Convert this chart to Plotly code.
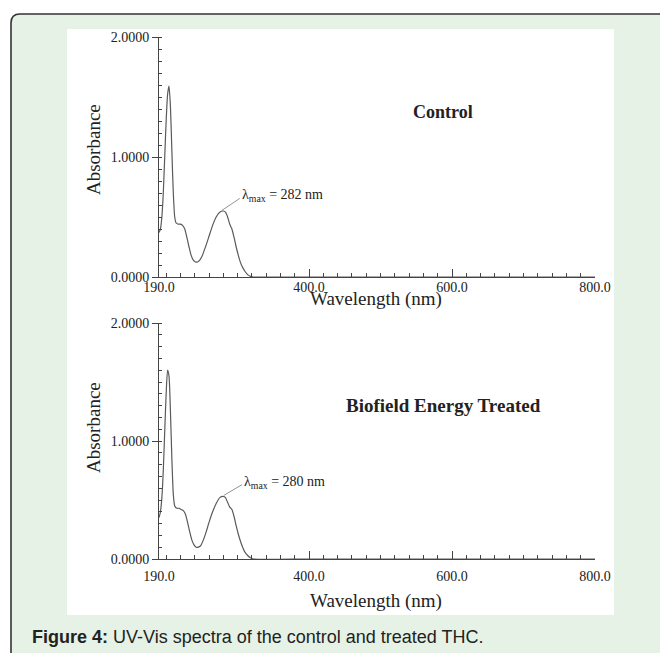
import plotly.graph_objects as go

# ---------------- data ----------------
wl_control = [190, 192, 194, 196, 198, 200, 202, 204, 206, 208, 210, 212, 214, 217, 220, 223, 226,
              229, 232, 235, 238, 241, 244, 247, 250, 255, 260, 265, 270, 275, 280, 283, 286, 289,
              292, 295, 298, 301, 304, 307, 310, 314, 318, 322, 400, 600, 800]
abs_control = [0.37, 0.40, 0.50, 0.70, 1.00, 1.30, 1.52, 1.59, 1.42, 1.05, 0.70, 0.50, 0.45, 0.44,
               0.44, 0.43, 0.40, 0.33, 0.25, 0.18, 0.14, 0.125, 0.125, 0.14, 0.17, 0.25, 0.34, 0.43,
               0.50, 0.54, 0.55, 0.54, 0.50, 0.44, 0.40, 0.33, 0.25, 0.18, 0.12, 0.08, 0.05, 0.02,
               0.005, 0.0, 0.0, 0.0, 0.0]

wl_treated = [190, 192, 194, 196, 198, 200, 202, 204, 206, 208, 210, 212, 215, 218, 221, 224, 227,
              230, 233, 236, 239, 242, 245, 248, 252, 256, 260, 265, 270, 275, 280, 283, 286, 289,
              292, 295, 298, 301, 304, 307, 310, 314, 318, 322, 400, 600, 800]
abs_treated = [0.35, 0.40, 0.52, 0.75, 1.08, 1.40, 1.60, 1.55, 1.25, 0.85, 0.55, 0.45, 0.43, 0.43,
               0.42, 0.41, 0.38, 0.31, 0.23, 0.16, 0.12, 0.10, 0.10, 0.11, 0.16, 0.23, 0.31, 0.40,
               0.47, 0.52, 0.53, 0.52, 0.48, 0.44, 0.42, 0.36, 0.28, 0.21, 0.15, 0.10, 0.06, 0.03,
               0.01, 0.0, 0.0, 0.0, 0.0]

x_tick_vals = [190, 400, 600, 800]
x_tick_text = ["190.0", "400.0", "600.0", "800.0"]
y_tick_vals = [0, 1, 2]
y_tick_text = ["0.0000", "1.0000", "2.0000"]

panel_titles = ["Control", "Biofield Energy Treated"]
lambda_max = [282, 280]
caption = "<b>Figure 4:</b> UV-Vis spectra of the control and treated THC."

# ---------------- layout helpers ----------------
W, H = 660, 653
def px(x):
    return x / W
def py(y):
    return 1 - y / H

SERIF = "Liberation Serif"
TXT = "#222222"
LINE = "#5a5a5a"
GREEN = "rgb(230,242,230)"

fig = go.Figure()
fig.add_trace(go.Scatter(x=wl_control, y=abs_control, mode="lines", xaxis="x", yaxis="y",
                         line=dict(color=LINE, width=1.2, shape="spline", smoothing=0.6),
                         showlegend=False, hoverinfo="skip"))
fig.add_trace(go.Scatter(x=wl_treated, y=abs_treated, mode="lines", xaxis="x2", yaxis="y2",
                         line=dict(color=LINE, width=1.2, shape="spline", smoothing=0.6),
                         showlegend=False, hoverinfo="skip"))

xdom = [px(159), px(595)]
ydom1 = [py(277), py(37)]
ydom2 = [py(559), py(323)]

def xaxis(anchor, standoff):
    return dict(domain=xdom, range=[190, 800], anchor=anchor, automargin=False, showline=True,
                linecolor="#444", linewidth=1, showgrid=False, zeroline=False, tickmode="array",
                tickvals=x_tick_vals, ticktext=x_tick_text, ticks="inside", ticklen=8,
                tickcolor="#444", tickfont=dict(family=SERIF, size=14, color=TXT),
                ticklabelstandoff=standoff,
                minor=dict(ticks="inside", ticklen=4, tick0=200, dtick=20, tickcolor="#444",
                           showgrid=False))

def yaxis(anchor, dom):
    return dict(domain=dom, range=[0, 2], anchor=anchor, automargin=False, showline=True,
                linecolor="#444", linewidth=1, showgrid=False, zeroline=False, tickmode="array",
                tickvals=y_tick_vals, ticktext=y_tick_text, ticks="outside", ticklen=6,
                tickcolor="#444", tickfont=dict(family=SERIF, size=14, color=TXT),
                minor=dict(ticks="inside", ticklen=3, tick0=0, dtick=0.1, tickcolor="#444",
                           showgrid=False))

R = 9
shapes = [
    dict(type="path", xref="paper", yref="paper", layer="below",
         path=(f"M {px(11)},{py(14 + R)} Q {px(11)},{py(14)} {px(11 + R)},{py(14)} "
               f"L 1,{py(14)} L 1,0 L {px(11)},0 Z"),
         fillcolor=GREEN, line=dict(width=0)),
    dict(type="path", xref="paper", yref="paper", layer="below",
         path=(f"M {px(11)},0 L {px(11)},{py(14 + R)} Q {px(11)},{py(14)} {px(11 + R)},{py(14)} "
               f"L 1,{py(14)}"),
         line=dict(color="#333333", width=1.6)),
    dict(type="rect", xref="paper", yref="paper", layer="below",
         x0=px(67), x1=px(614), y0=py(615), y1=py(29),
         fillcolor="white", line=dict(width=0)),
]

lm_pts = [(278, 0.555, 303, 0.655, "x", "y", 0.675), (281, 0.54, 306, 0.63, "x2", "y2", 0.645)]
for (x0, y0, x1, y1, xa, ya, ty) in lm_pts:
    shapes.append(dict(type="line", xref=xa, yref=ya, x0=x0, y0=y0, x1=x1, y1=y1,
                       line=dict(color="#777", width=0.8)))

annotations = []
title_sizes = [18, 19]
for i, (xa, ya, ty) in enumerate([("x", "y", 1.375), ("x2", "y2", 1.305)]):
    annotations.append(dict(xref=xa, yref=ya, x=588, y=ty, xanchor="center", yanchor="middle",
                            text=f"<b>{panel_titles[i]}</b>", showarrow=False,
                            font=dict(family=SERIF, size=title_sizes[i], color=TXT)))

for i, (x0, y0, x1, y1, xa, ya, ty) in enumerate(lm_pts):
    annotations.append(dict(xref=xa, yref=ya, x=x1, y=ty, xanchor="left", yanchor="middle",
                            showarrow=False,
                            text=f"λ<sub>max</sub> = {lambda_max[i]} nm",
                            font=dict(family=SERIF, size=14, color=TXT)))

for yc in (150, 428):
    annotations.append(dict(xref="paper", yref="paper", x=px(93), y=py(yc), text="Absorbance",
                            textangle=-90, showarrow=False, xanchor="center", yanchor="middle",
                            font=dict(family=SERIF, size=19, color=TXT)))
for yc in (299, 601):
    annotations.append(dict(xref="paper", yref="paper", x=px(376), y=py(yc),
                            text="Wavelength (nm)", showarrow=False, xanchor="center",
                            yanchor="middle", font=dict(family=SERIF, size=19, color=TXT)))

annotations.append(dict(xref="paper", yref="paper", x=px(30), y=py(637), xanchor="left",
                        yanchor="middle", text=caption, showarrow=False,
                        font=dict(family="Liberation Sans", size=18, color="#222")))

fig.update_layout(
    width=W, height=H, margin=dict(l=0, r=0, t=0, b=0, pad=0),
    paper_bgcolor="white", plot_bgcolor="rgba(0,0,0,0)",
    xaxis=xaxis("y", -3), yaxis=yaxis("x", ydom1),
    xaxis2=xaxis("y2", 4), yaxis2=yaxis("x2", ydom2),
    shapes=shapes, annotations=annotations,
)

fig.write_html("out.html")
